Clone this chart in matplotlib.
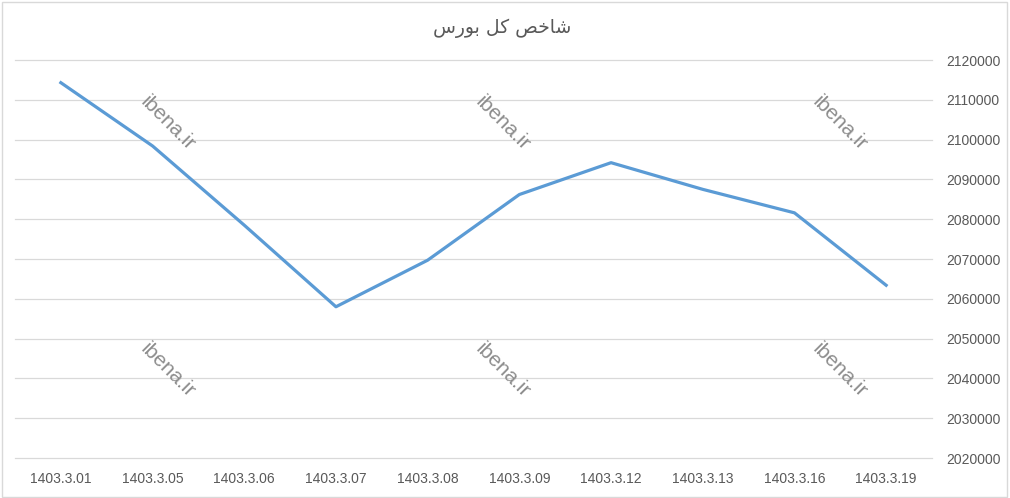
import matplotlib
matplotlib.use("Agg")
import matplotlib.pyplot as plt
from matplotlib.patches import Rectangle

categories = ["1403.3.01", "1403.3.05", "1403.3.06", "1403.3.07", "1403.3.08",
              "1403.3.09", "1403.3.12", "1403.3.13", "1403.3.16", "1403.3.19"]
values = [2114300, 2098400, 2078500, 2058000, 2069700,
          2086200, 2094200, 2087500, 2081600, 2063400]
yticks = list(range(2020000, 2120001, 10000))
# Title "شاخص کل بورس" written with Arabic presentation forms in visual order
title = "\uFEB1\uFEAD\uFEEE\uFE91 \uFEDE\uFEDB \uFEBA\uFEA7\uFE8E\uFEB7"
watermark = "ibena.ir"

fig = plt.figure(figsize=(10.1, 4.98), dpi=100)
fig.patch.set_facecolor("white")
fig.add_artist(Rectangle((0.002, 0.003), 0.995, 0.993, transform=fig.transFigure,
                         fill=False, edgecolor="#D9D9D9", linewidth=1.0))

ax = fig.add_axes([15 / 1010, 1 - 458 / 498, (932 - 15) / 1010, (458 - 60) / 498])
x = list(range(len(categories)))
ax.plot(x, values, color="#5B9BD5", linewidth=2.3, solid_joinstyle="round", zorder=3)
ax.set_xlim(-0.5, len(categories) - 0.5)
ax.set_ylim(yticks[0], yticks[-1])
ax.set_yticks(yticks)
ax.set_yticklabels([str(v) for v in yticks])
ax.yaxis.tick_right()
ax.set_xticks(x)
ax.set_xticklabels(categories)
label_font = ["Liberation Sans", "DejaVu Sans"]
for lab in ax.get_xticklabels() + ax.get_yticklabels():
    lab.set_family(label_font)
    lab.set_fontsize(10)
    lab.set_color("#595959")
ax.tick_params(axis="both", length=0)
ax.tick_params(axis="y", pad=10)
ax.tick_params(axis="x", pad=10)
ax.grid(axis="y", color="#D9D9D9", linewidth=0.9)
for gl in ax.get_ygridlines():
    gl.set_clip_on(False)
ax.set_axisbelow(True)
for s in ax.spines.values():
    s.set_visible(False)

fig.text(0.497, 1 - 28 / 498, title, ha="center", va="center", fontsize=13.5,
         color="#595959", family=["DejaVu Sans"])

for cx in (168, 503, 840):
    for cy in (123, 370):
        fig.text(cx / 1010, 1 - cy / 498, watermark, ha="center", va="center",
                 rotation=-45, fontsize=15, color="#8C8C8C",
                 family=["Liberation Sans", "DejaVu Sans"], zorder=5)

fig.savefig("out.png", dpi=100)
